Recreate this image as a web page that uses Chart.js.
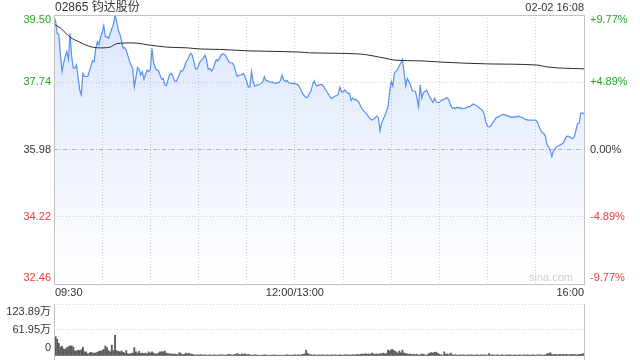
<!DOCTYPE html>
<html>
<head>
<meta charset="utf-8">
<script src="https://cdn.jsdelivr.net/npm/chart.js@4.4.1/dist/chart.umd.min.js"></script>
<style>
  html, body { margin: 0; padding: 0; background: #fff; }
  #wrap { position: relative; width: 640px; height: 360px; overflow: hidden; }
  #price { position: absolute; left: 0; top: 0; }
  #vol { position: absolute; left: 0; top: 300px; }
</style>
</head>
<body>
<div id="wrap">
  <canvas id="price" width="640" height="300"></canvas>
  <canvas id="vol" width="640" height="60"></canvas>
</div>
<script>
// ---- data (one value per trading minute, 09:30 -> 16:00, lunch removed) ----
const stockTitle = '02865 钧达股份';
const stampText = '02-02 16:08';
const prevClose = 35.98;

const priceVals = [
  39.46, 39.33, 39.02, 38.98, 38.47, 38.02, 38.24, 38.41, 38.54, 38.34,
  39.02, 38.41, 38.11, 38.11, 38.19, 37.87, 37.54, 37.41, 37.97, 37.89,
  37.89, 37.89, 38.02, 38.17, 38.30, 38.28, 38.63, 38.80, 38.72, 38.93,
  39.04, 39.22, 38.93, 38.93, 38.89, 39.02, 39.14, 39.26, 39.50, 39.33,
  39.11, 39.00, 38.83, 38.63, 38.65, 38.57, 38.43, 38.30, 38.19, 38.10,
  37.62, 37.87, 38.13, 38.08, 37.93, 38.02, 37.82, 37.95, 38.06, 38.02,
  38.08, 38.63, 38.25, 38.12, 38.06, 38.05, 37.93, 37.82, 37.84, 37.67,
  37.65, 37.80, 37.94, 37.97, 37.90, 37.78, 37.76, 37.84, 37.93, 38.04,
  38.03, 38.11, 38.25, 38.32, 38.41, 38.50, 38.46, 38.30, 38.10, 38.08,
  38.17, 38.28, 38.32, 38.37, 38.45, 38.32, 38.08, 38.10, 38.03, 38.09,
  38.21, 38.33, 38.30, 38.37, 38.44, 38.48, 38.47, 38.43, 38.35, 38.27,
  38.25, 38.24, 38.19, 38.04, 37.90, 37.92, 37.93, 37.94, 37.97, 37.88,
  37.76, 37.62, 37.62, 38.02, 37.76, 37.64, 37.66, 37.67, 37.68, 37.71,
  37.75, 37.89, 37.78, 37.78, 37.75, 37.74, 37.75, 37.72, 37.71, 37.73,
  37.73, 37.78, 37.93, 37.80, 37.76, 37.79, 37.73, 37.72, 37.71, 37.71,
  37.71, 37.69, 37.67, 37.60, 37.51, 37.43, 37.38, 37.34, 37.35, 37.45,
  37.51, 37.67, 37.78, 37.67, 37.64, 37.67, 37.68, 37.68, 37.62, 37.55,
  37.49, 37.42, 37.35, 37.31, 37.35, 37.38, 37.39, 37.43, 37.61, 37.49,
  37.49, 37.54, 37.49, 37.45, 37.45, 37.26, 37.33, 37.28, 37.29, 37.25,
  37.21, 37.10, 37.03, 36.99, 36.94, 36.89, 36.83, 36.78, 36.75, 36.77,
  36.81, 36.86, 36.80, 36.47, 36.67, 36.77, 36.86, 36.98, 37.10, 37.49,
  37.76, 37.64, 37.99, 38.03, 38.08, 38.17, 38.25, 38.34, 37.99, 37.64,
  37.84, 37.76, 37.67, 37.52, 37.51, 37.50, 37.32, 37.10, 37.67, 37.32,
  37.46, 37.50, 37.53, 37.44, 37.35, 37.28, 37.21, 37.32, 37.23, 37.21,
  37.21, 37.27, 37.28, 37.29, 37.33, 37.33, 37.26, 37.14, 37.06, 37.08,
  37.05, 37.09, 37.06, 37.08, 37.04, 37.06, 37.06, 37.08, 37.10, 37.10,
  37.14, 37.17, 37.15, 37.13, 37.10, 37.06, 37.03, 36.99, 36.88, 36.68,
  36.58, 36.57, 36.60, 36.67, 36.73, 36.80, 36.82, 36.84, 36.87, 36.89,
  36.90, 36.88, 36.86, 36.86, 36.82, 36.84, 36.82, 36.84, 36.82, 36.86,
  36.83, 36.82, 36.81, 36.78, 36.76, 36.75, 36.75, 36.75, 36.75, 36.75,
  36.75, 36.69, 36.59, 36.49, 36.42, 36.40, 36.33, 36.10, 36.05, 35.95,
  35.79, 35.95, 36.00, 36.05, 36.07, 36.10, 36.12, 36.14, 36.23, 36.32,
  36.33, 36.31, 36.28, 36.26, 36.32, 36.49, 36.65, 36.67, 36.93, 36.94,
  36.91
];

// average price line (minute, price)
const avgMinutes = [0, 4, 10, 16, 22, 29, 35, 39, 49, 60, 70, 83, 91, 103, 122, 153, 159, 190, 206, 212, 228, 240, 270, 301, 307, 330];
const avgPrices = [39.26, 39.16, 38.92, 38.79, 38.68, 38.64, 38.66, 38.75, 38.77, 38.71, 38.66, 38.64, 38.61, 38.60, 38.56, 38.53, 38.51, 38.48, 38.37, 38.32, 38.30, 38.27, 38.22, 38.19, 38.14, 38.09];

// volume per minute, in 万
const volVals = [
  123.89, 46, 40, 30, 21, 23, 17, 16, 20, 22,
  24, 24, 21, 12, 12, 14, 13, 15, 21, 10,
  10, 5, 7, 9, 7, 7, 7, 9, 11, 12,
  13, 16, 24, 20, 13, 10, 26, 13, 49, 13,
  11, 10, 12, 9, 7, 13, 5, 5, 6, 7,
  20, 10, 7, 11, 6, 7, 6, 7, 5, 10,
  7, 10, 7, 5, 5, 7, 10, 10, 10, 12,
  7, 6, 5, 5, 4, 5, 4, 3, 8, 6,
  3, 4, 7, 5, 6, 5, 4, 3, 2, 3,
  2, 3, 3, 2, 3, 2, 2, 3, 2, 2,
  3, 2, 2, 3, 2, 3, 2, 2, 3, 4,
  3, 2, 3, 4, 6, 4, 3, 5, 4, 5,
  3, 4, 3, 2, 2, 3, 2, 2, 1, 2,
  2, 3, 2, 2, 1, 2, 2, 3, 2, 2,
  2, 2, 1, 2, 2, 3, 2, 2, 2, 2,
  3, 2, 3, 2, 3, 4, 5, 14, 6, 4,
  3, 2, 3, 2, 2, 3, 2, 3, 2, 2,
  3, 2, 2, 3, 2, 3, 2, 2, 3, 2,
  2, 3, 3, 2, 3, 2, 3, 3, 3, 4,
  3, 4, 5, 4, 6, 4, 5, 4, 7, 5,
  4, 5, 4, 6, 5, 7, 5, 6, 14, 12,
  15, 15, 12, 10, 7, 12, 8, 14, 7, 6,
  5, 4, 5, 3, 4, 3, 4, 2, 3, 5,
  4, 3, 2, 5, 7, 8, 7, 9, 9, 6,
  4, 3, 2, 10, 4, 5, 3, 7, 3, 2,
  3, 2, 2, 3, 2, 3, 2, 2, 3, 2,
  3, 2, 2, 3, 2, 2, 3, 2, 3, 2,
  2, 6, 2, 3, 2, 2, 3, 2, 2, 3,
  2, 2, 3, 2, 3, 2, 2, 3, 2, 2,
  3, 2, 2, 3, 2, 3, 2, 2, 3, 2,
  2, 3, 2, 3, 2, 2, 3, 5, 6, 8,
  4, 3, 4, 3, 3, 4, 3, 4, 3, 4,
  3, 3, 4, 3, 4, 3, 3, 4, 4, 5,
  6
];

const priceTicks = [39.50, 37.74, 35.98, 34.22, 32.46];
const priceTickLabels = ['39.50', '37.74', '35.98', '34.22', '32.46'];
const pctTickLabels = ['+9.77%', '+4.89%', '0.00%', '-4.89%', '-9.77%'];
const gridMinutes = [0, 30, 60, 90, 120, 150, 180, 210, 240, 270, 300, 330];
const timeTicks = [0, 150, 330];
const timeTickLabels = ['09:30', '12:00/13:00', '16:00'];
const volTicks = [123.89, 61.95, 0];
const volTickLabels = ['123.89万', '61.95万', '0'];

// ---- styles ----
const FONT = '"Liberation Sans", Arial, "Noto Sans CJK SC", sans-serif';
const UP = '#22a722', DOWN = '#f03a3a', FLAT = '#333333';
const tickColor = v => v > prevClose + 1e-6 ? UP : (v < prevClose - 1e-6 ? DOWN : FLAT);
const GRID = '#cfcfcf';
const FRAME = '#c2c2c2';

const isPrev = ctx => ctx.tick && Math.abs(ctx.tick.value - prevClose) < 1e-6;

const pricePlugin = {
  id: 'priceDecor',
  afterDraw(chart) {
    const c = chart.ctx, a = chart.chartArea, ys = chart.scales.y, xs = chart.scales.x;
    c.save();
    c.strokeStyle = FRAME; c.lineWidth = 1;
    c.strokeRect(a.left + 0.5, a.top + 0.5, a.right - a.left, a.bottom - a.top);

    c.font = '11px ' + FONT;
    c.textBaseline = 'middle';
    priceTicks.forEach((v, i) => {
      let y = ys.getPixelForValue(v);
      y = Math.min(Math.max(y, a.top + 5), a.bottom - 6);
      c.fillStyle = tickColor(v);
      c.textAlign = 'right';
      c.fillText(priceTickLabels[i], a.left - 3, y);
      c.textAlign = 'left';
      c.fillText(pctTickLabels[i], a.right + 6, y);
    });

    c.fillStyle = '#333';
    timeTicks.forEach((m, i) => {
      const x = xs.getPixelForValue(m);
      c.textAlign = i === 0 ? 'left' : (i === timeTicks.length - 1 ? 'right' : 'center');
      c.fillText(timeTickLabels[i], i === 0 ? x + 1 : x, a.bottom + 9);
    });

    c.font = '12px ' + FONT;
    c.textAlign = 'left';
    c.fillText(stockTitle, a.left + 1, 8);
    c.font = '11px ' + FONT;
    c.textAlign = 'right';
    c.fillText(stampText, a.right, 8);

    c.fillStyle = '#cfcfcf';
    c.fillText('sina.com', a.right - 11, a.bottom - 6);
    c.restore();
  }
};

new Chart(document.getElementById('price'), {
  type: 'line',
  data: {
    datasets: [
      {
        data: avgMinutes.map((m, i) => ({ x: m, y: avgPrices[i] })),
        borderColor: '#2b2b2b',
        borderWidth: 1,
        pointRadius: 0,
        fill: false,
        cubicInterpolationMode: 'monotone'
      },
      {
        data: priceVals.map((v, i) => ({ x: i, y: v })),
        borderColor: '#5590f0',
        borderWidth: 1.2,
        pointRadius: 0,
        tension: 0,
        fill: 'start',
        backgroundColor: (ctx) => {
          const a = ctx.chart.chartArea;
          if (!a) return 'rgba(0,0,0,0)';
          const g = ctx.chart.ctx.createLinearGradient(0, a.top, 0, a.bottom);
          g.addColorStop(0, 'rgba(70,125,235,0.19)');
          g.addColorStop(1, 'rgba(70,125,235,0.0)');
          return g;
        }
      }
    ]
  },
  options: {
    responsive: false,
    animation: false,
    layout: { padding: { left: 54, right: 56, top: 15, bottom: 16 } },
    plugins: { legend: { display: false }, tooltip: { enabled: false } },
    scales: {
      x: {
        type: 'linear', min: 0, max: 330,
        afterBuildTicks: s => { s.ticks = gridMinutes.map(v => ({ value: v })); },
        afterFit: s => { s.height = 0; },
        ticks: { display: false },
        grid: { color: GRID, drawTicks: false },
        border: { display: false, dash: [1, 2] }
      },
      y: {
        min: 32.46, max: 39.50,
        afterBuildTicks: s => { s.ticks = priceTicks.map(v => ({ value: v })); },
        afterFit: s => { s.width = 0; },
        ticks: { display: false },
        grid: { color: ctx => isPrev(ctx) ? '#b5b5b5' : GRID, drawTicks: false },
        border: { display: false, dash: ctx => isPrev(ctx) ? [4, 2, 1, 2] : [1, 2] }
      }
    }
  },
  plugins: [pricePlugin]
});

const volPlugin = {
  id: 'volDecor',
  afterDraw(chart) {
    const c = chart.ctx, a = chart.chartArea, ys = chart.scales.y;
    c.save();
    c.strokeStyle = FRAME; c.lineWidth = 1;
    c.beginPath();
    c.moveTo(a.left + 0.5, a.top); c.lineTo(a.left + 0.5, a.bottom + 4);
    c.moveTo(a.right + 0.5, a.top); c.lineTo(a.right + 0.5, a.bottom + 4);
    c.stroke();
    c.font = '11px ' + FONT;
    c.textBaseline = 'middle';
    c.textAlign = 'right';
    c.fillStyle = '#333';
    volTicks.forEach((v, i) => {
      let y = ys.getPixelForValue(v);
      y = Math.min(Math.max(y, a.top + 8), a.bottom - 8);
      c.fillText(volTickLabels[i], a.left - 3, y);
    });
    c.restore();
  }
};

new Chart(document.getElementById('vol'), {
  type: 'bar',
  data: {
    datasets: [{
      data: volVals.map((v, i) => ({ x: i, y: v })),
      backgroundColor: '#5a5a5a',
      barThickness: 1.2,
      grouped: false
    }]
  },
  options: {
    responsive: false,
    animation: false,
    layout: { padding: { left: 54, right: 56, top: 4, bottom: 4 } },
    plugins: { legend: { display: false }, tooltip: { enabled: false } },
    scales: {
      x: {
        type: 'linear', min: 0, max: 330, offset: false,
        afterFit: s => { s.height = 0; },
        ticks: { display: false },
        grid: { display: false, offset: false },
        border: { display: false }
      },
      y: {
        min: 0, max: 123.89,
        afterBuildTicks: s => { s.ticks = volTicks.map(v => ({ value: v })); },
        afterFit: s => { s.width = 0; },
        ticks: { display: false },
        grid: { color: ctx => ctx.tick && ctx.tick.value > 0 ? GRID : 'rgba(0,0,0,0)', drawTicks: false },
        border: { display: false, dash: [1, 2] }
      }
    }
  },
  plugins: [volPlugin]
});
</script>
</body>
</html>
